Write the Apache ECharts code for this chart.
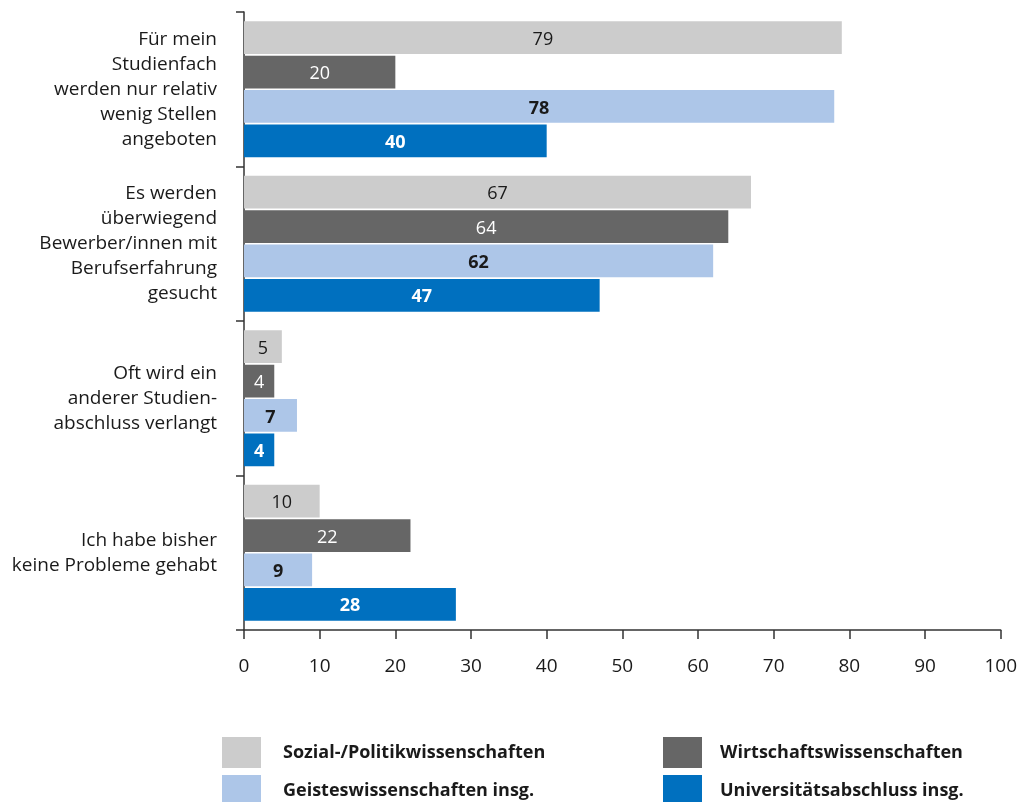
<!DOCTYPE html>
<html>
<head>
<meta charset="utf-8">
<script src="https://cdn.jsdelivr.net/npm/echarts@6/dist/echarts.min.js"></script>
<style>
  html, body {margin: 0; padding: 0; background: #fff;}
  #chart {width: 1020px; height: 802px;}
</style>
</head>
<body>
<div id="chart"></div>
<script>
var categories = [
  'Für mein\nStudienfach\nwerden nur relativ\nwenig Stellen\nangeboten',
  'Es werden\nüberwiegend\nBewerber/innen mit\nBerufserfahrung\ngesucht',
  'Oft wird ein\nanderer Studien-\nabschluss verlangt',
  'Ich habe bisher\nkeine Probleme gehabt'
];
var seriesNames = [
  'Sozial-/Politikwissenschaften',
  'Wirtschaftswissenschaften',
  'Geisteswissenschaften insg.',
  'Universitätsabschluss insg.'
];
var sozial = [79, 67, 5, 10];
var wirtschaft = [20, 64, 4, 22];
var geistes = [78, 62, 7, 9];
var uni = [40, 47, 4, 28];
var xTicks = [0, 10, 20, 30, 40, 50, 60, 70, 80, 90, 100];

var font = 'Open Sans';
var colors = ['#cccccc', '#666666', '#adc6e8', '#0070bf'];
var labelColors = ['#1a1a1a', '#ffffff', '#1a1a1a', '#ffffff'];
var labelWeights = ['normal', 'normal', 'bold', 'bold'];
var values = [sozial, wirtschaft, geistes, uni];

var chart = echarts.init(document.getElementById('chart'));

var series = [];
for (var i = 0; i < values.length; i++) {
  series.push({
    name: seriesNames[i],
    type: 'bar',
    data: values[i],
    barGap: '5%',
    barCategoryGap: '12%',
    itemStyle: {color: colors[i]},
    label: {
      show: true,
      position: 'inside',
      offset: [0, 2],
      color: labelColors[i],
      fontWeight: labelWeights[i],
      fontFamily: font,
      fontSize: 18
    }
  });
}

var legendBase = {
  orient: 'vertical',
  top: 737,
  height: 120,
  padding: 0,
  icon: 'rect',
  itemWidth: 39,
  itemHeight: 31,
  itemGap: 7,
  selectedMode: false
};

chart.setOption({
  animation: false,
  grid: {left: 244, right: 19, top: 12, bottom: 172, containLabel: false},
  xAxis: {
    type: 'value',
    min: 0,
    max: 100,
    interval: 10,
    axisLine: {show: true, lineStyle: {color: '#333', width: 1.5}},
    axisTick: {show: true, length: 9, lineStyle: {color: '#333', width: 1.5}},
    splitLine: {show: false},
    axisLabel: {
      margin: 27,
      color: '#1a1a1a',
      fontFamily: font,
      fontSize: 19,
      formatter: function (v) { return xTicks.indexOf(v) >= 0 ? String(v) : ''; }
    }
  },
  yAxis: {
    type: 'category',
    inverse: true,
    data: categories,
    axisLine: {show: true, lineStyle: {color: '#333', width: 1.5}},
    axisTick: {show: true, length: 8, lineStyle: {color: '#333', width: 1.5}},
    axisLabel: {
      margin: 27,
      color: '#1a1a1a',
      fontFamily: font,
      fontSize: 19,
      lineHeight: 25,
      align: 'right'
    }
  },
  legend: [
    Object.assign({}, legendBase, {
      data: [seriesNames[0], seriesNames[2]],
      left: 222,
      textStyle: {fontFamily: font, fontSize: 18, fontWeight: 'bold', color: '#1a1a1a', padding: [0, 0, 0, 17]}
    }),
    Object.assign({}, legendBase, {
      data: [seriesNames[1], seriesNames[3]],
      left: 663,
      textStyle: {fontFamily: font, fontSize: 18, fontWeight: 'bold', color: '#1a1a1a', padding: [0, 0, 0, 13]}
    })
  ],
  series: series
});
</script>
</body>
</html>
